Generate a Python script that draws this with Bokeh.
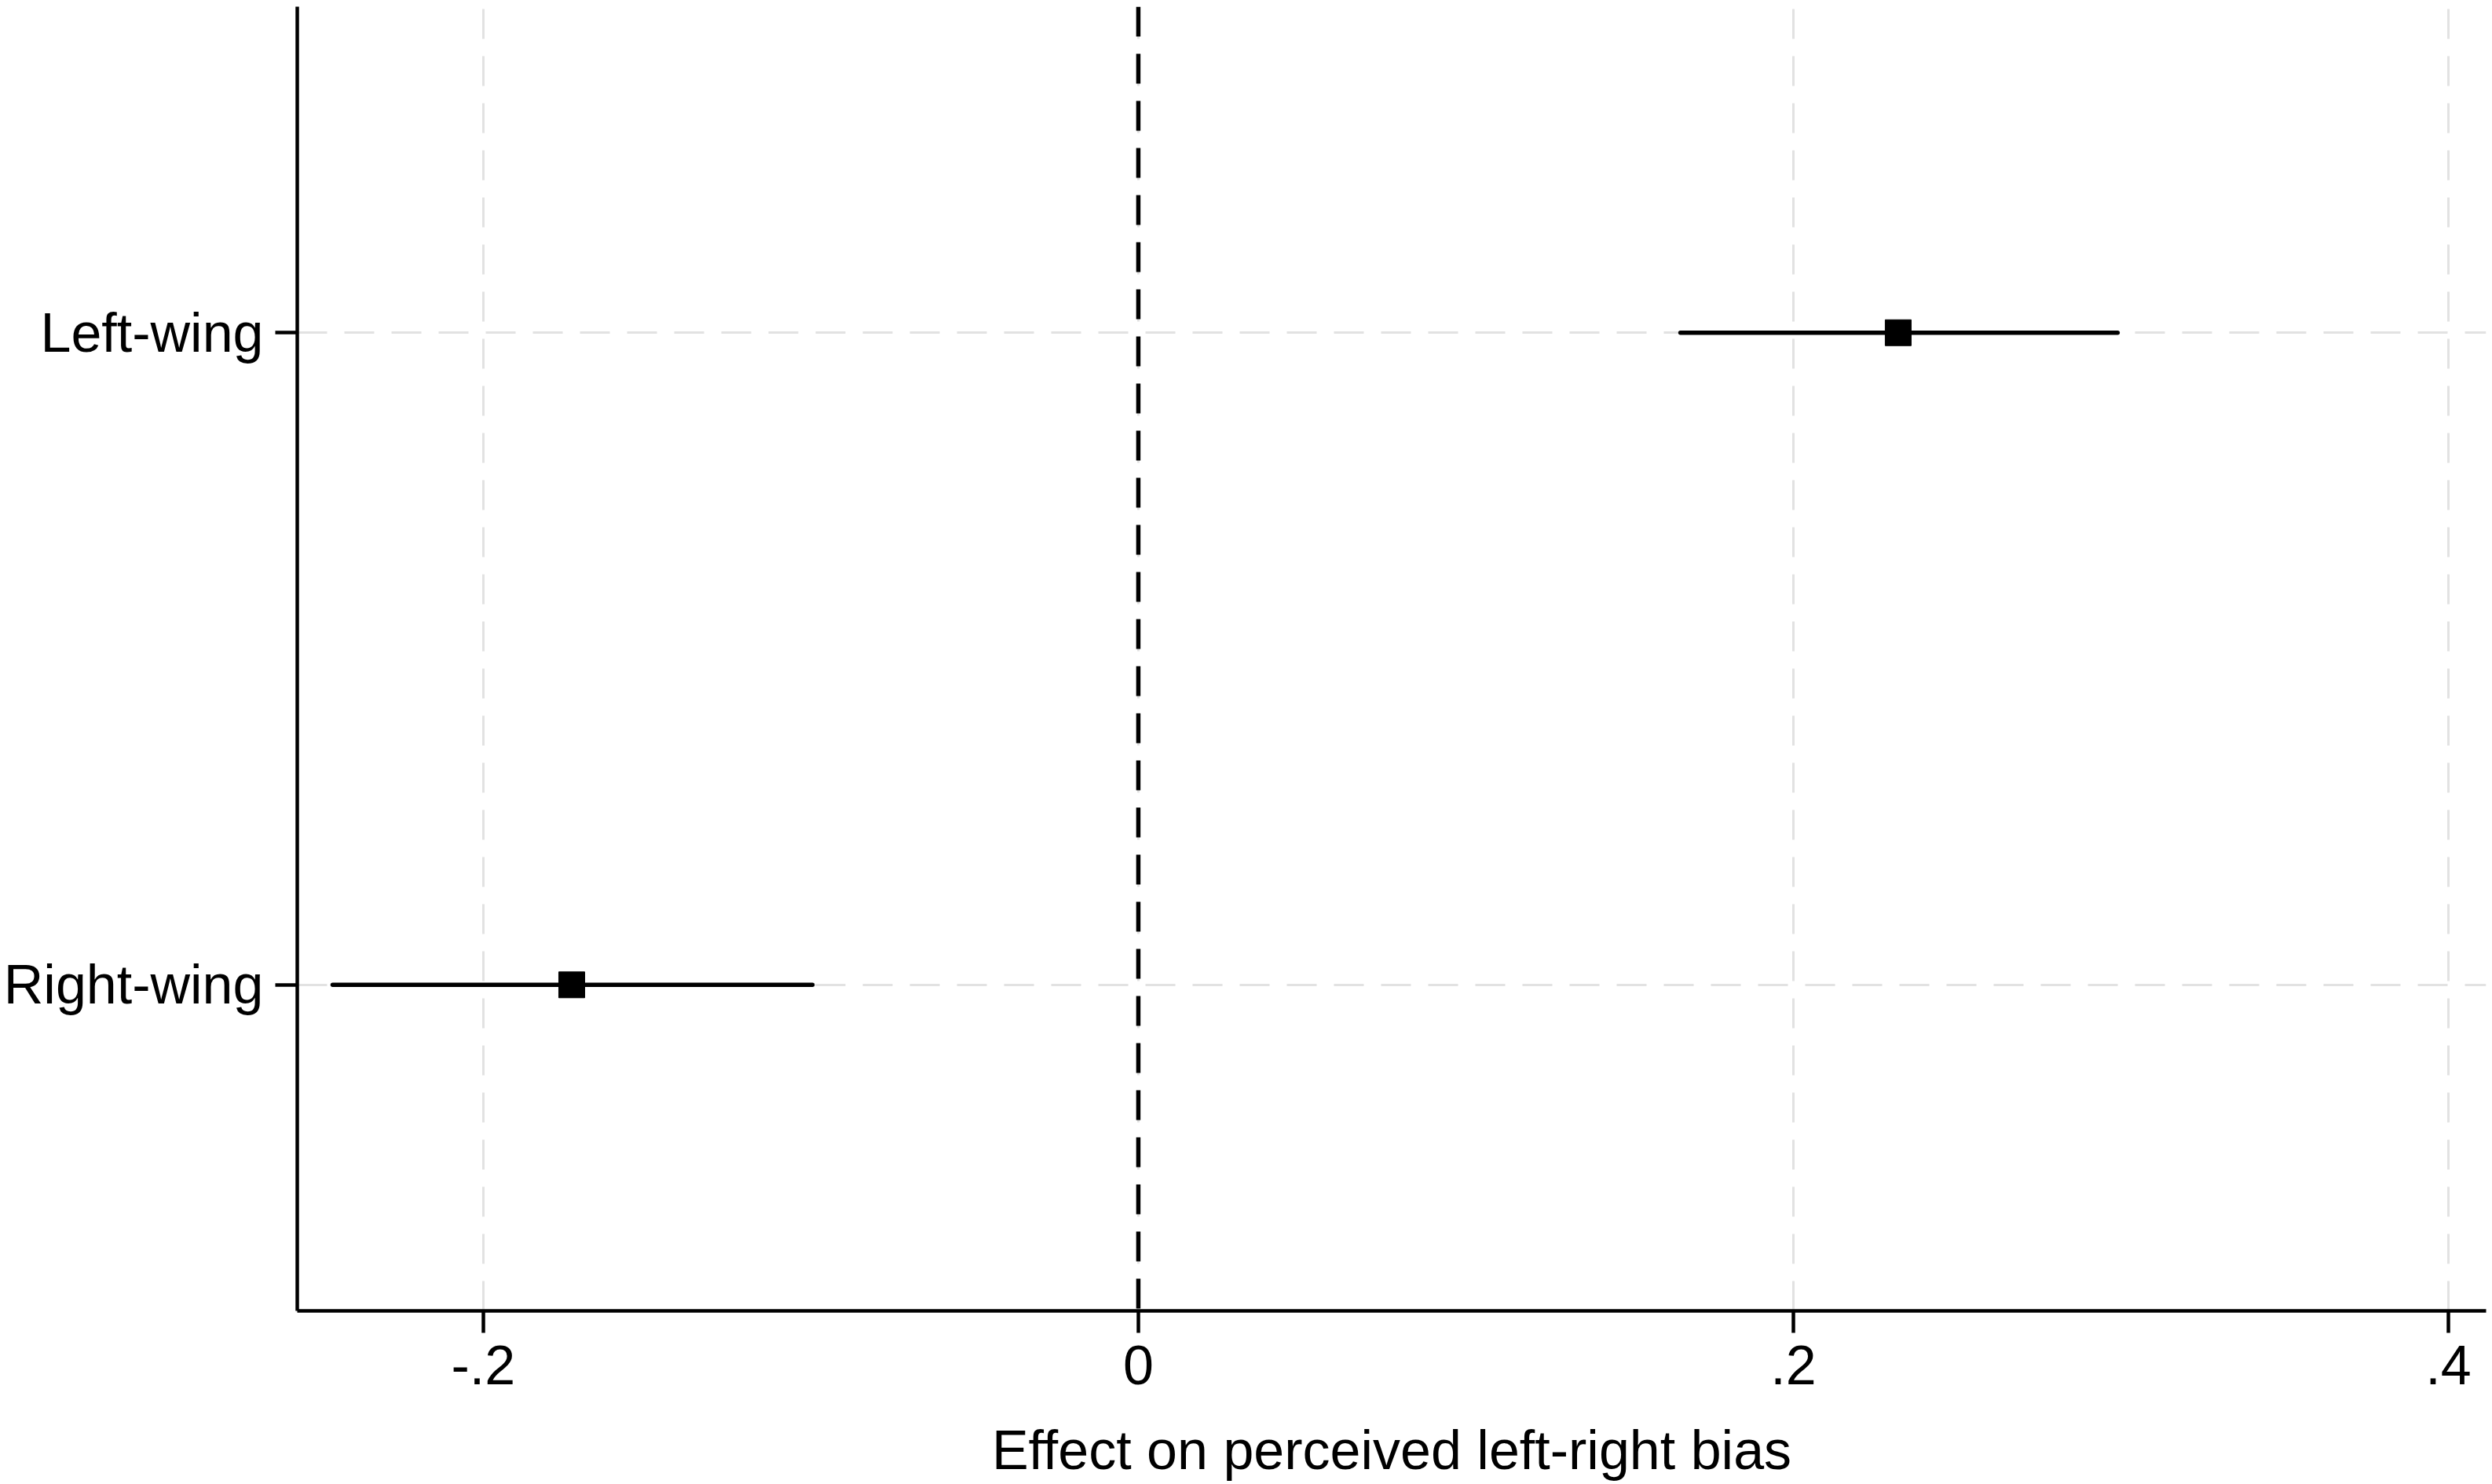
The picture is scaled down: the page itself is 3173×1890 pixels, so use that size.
from bokeh.plotting import figure
from bokeh.models import Range1d, FixedTicker, Span, ColumnDataSource
from bokeh.embed import file_html
from bokeh.resources import INLINE

# Coefficient estimates with 95% confidence intervals
categories = ["Left-wing", "Right-wing"]
estimates = [0.232, -0.173]
ci_lower = [0.1655, -0.246]
ci_upper = [0.299, -0.0995]

x_ticks = [-0.2, 0.0, 0.2, 0.4]
x_tick_labels = ["-.2", "0", ".2", ".4"]

# Rows are stacked top-down in list order
y_pos = [len(categories) - i for i in range(len(categories))]

FONT = "Liberation Sans"
FSIZE = "70px"

p = figure(
    width=3173, height=1890,
    x_range=Range1d(-0.2568, 0.4115),
    y_range=Range1d(0.5, 2.5),
    output_backend="svg", toolbar_location=None,
    min_border_left=378, min_border_right=8,
    min_border_top=8, min_border_bottom=221,
)
p.outline_line_color = None
p.background_fill_color = "white"
p.border_fill_color = "white"

# x axis
p.xaxis.ticker = FixedTicker(ticks=x_ticks)
p.xaxis.major_label_overrides = {t: s for t, s in zip(x_ticks, x_tick_labels)}
p.xaxis.axis_label = "Effect on perceived left-right bias"
# y axis
p.yaxis.ticker = FixedTicker(ticks=y_pos)
p.yaxis.major_label_overrides = {y: c for y, c in zip(y_pos, categories)}

for ax in (p.xaxis, p.yaxis):
    ax.axis_line_color = "black"
    ax.axis_line_width = 4.5
    ax.major_tick_line_color = "black"
    ax.major_tick_line_width = 4.5
    ax.major_tick_in = 0
    ax.major_tick_out = 28
    ax.minor_tick_line_color = None
    ax.major_label_text_font = FONT
    ax.major_label_text_font_size = FSIZE
    ax.major_label_text_color = "black"
    ax.axis_label_text_font = FONT
    ax.axis_label_text_font_size = FSIZE
    ax.axis_label_text_font_style = "normal"
    ax.axis_label_text_color = "black"

p.xaxis.major_label_standoff = 16
p.xaxis.axis_label_standoff = 42
p.yaxis.major_label_standoff = 15

# light dashed grid
for g in (p.xgrid, p.ygrid):
    g.grid_line_color = "#e2e2e2"
    g.grid_line_width = 3
    g.grid_line_dash = "38 22"

# reference line at zero
p.add_layout(Span(location=0, dimension="height", line_color="black",
                  line_width=5.5, line_dash="38 22"))

src = ColumnDataSource(dict(y=y_pos, est=estimates, lo=ci_lower, hi=ci_upper))
p.segment(x0="lo", x1="hi", y0="y", y1="y", source=src,
          line_color="black", line_width=5.5, line_cap="round")
p.scatter(x="est", y="y", source=src, marker="square", size=33,
          fill_color="black", line_color="black", line_width=1)

open("out.html", "w").write(file_html(p, INLINE))
